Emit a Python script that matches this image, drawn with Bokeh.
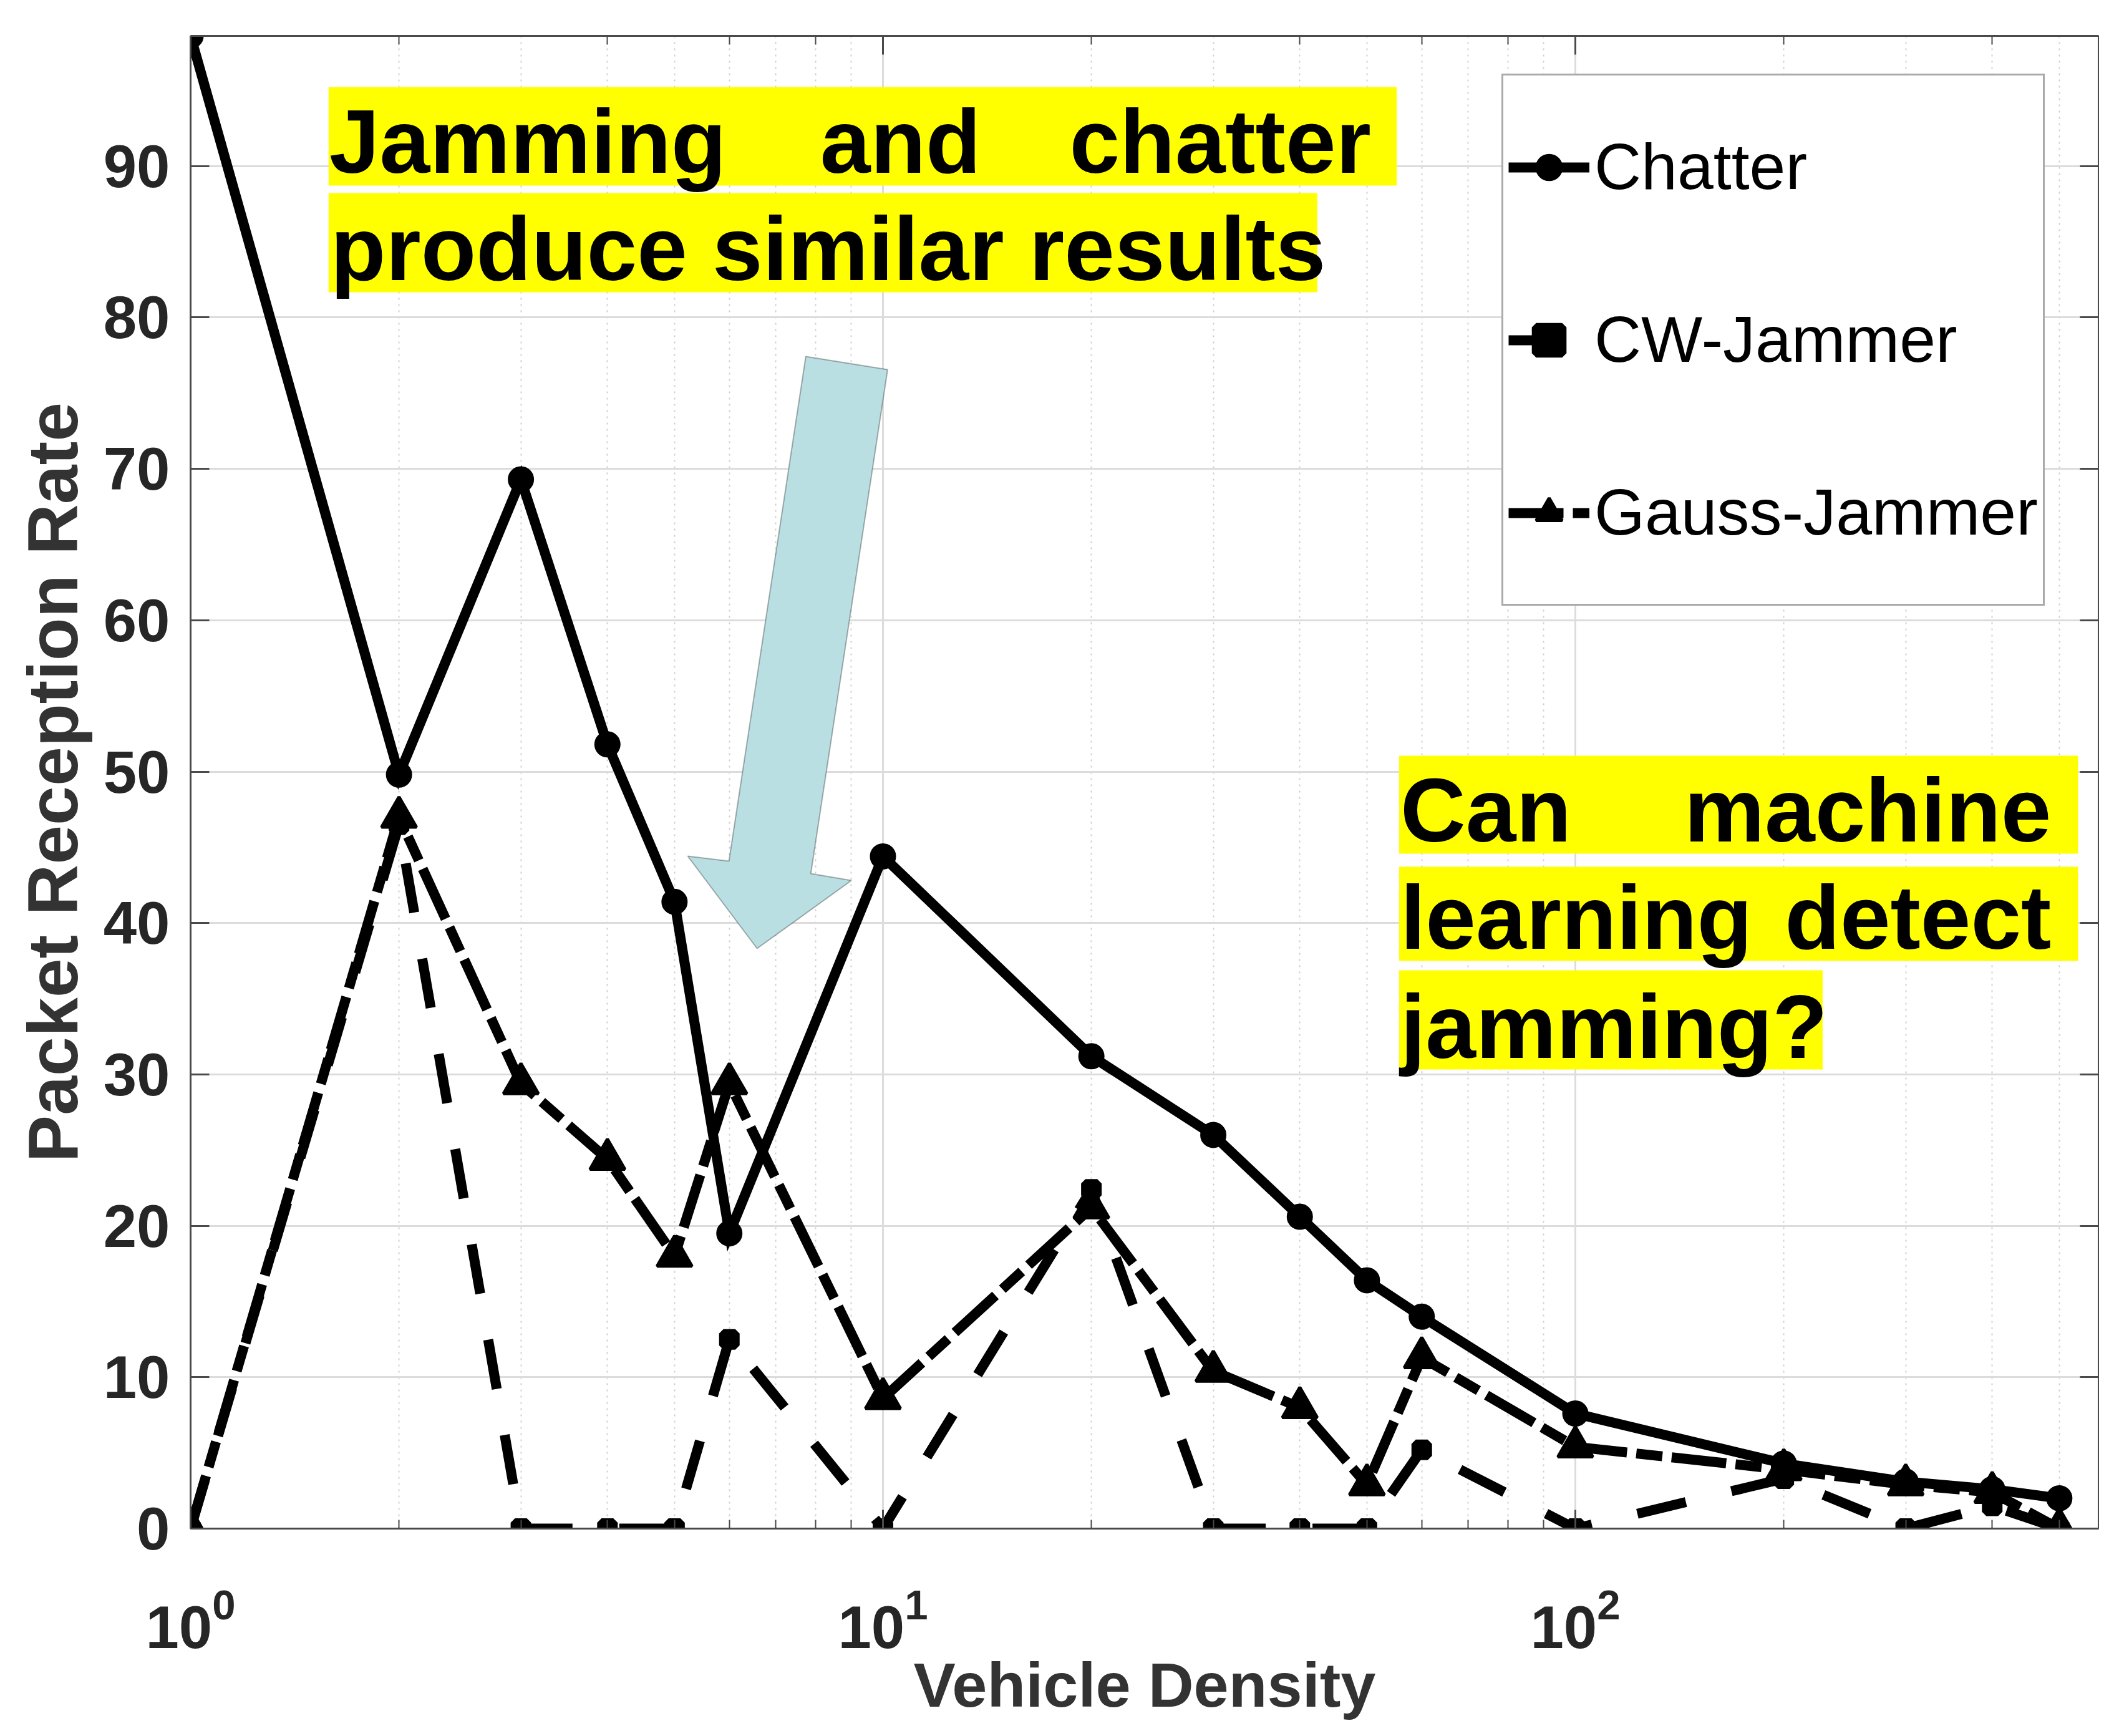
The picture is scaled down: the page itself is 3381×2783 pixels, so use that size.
from math import log10
from bokeh.plotting import figure
from bokeh.models import (LogAxis, LinearAxis, FixedTicker, LogTicker, CustomJSTickFormatter,
                          Legend, LegendItem, BoxAnnotation, Label, PolyAnnotation)
from bokeh.embed import file_html
from bokeh.resources import INLINE

# ---------------- data ----------------
density = [1, 2, 3, 4, 5, 6, 10, 20, 30, 40, 50, 60, 100, 200, 300, 400, 500]
chatter = [98.6, 49.8, 69.3, 51.8, 41.4, 19.5, 44.4, 31.2, 26.0, 20.6, 16.4, 14.0, 7.6, 4.3, 3.1, 2.6, 2.0]
cw_jammer = [0, 46.5, 0, 0, 0, 12.5, 0, 22.4, 0, 0, 0, 5.2, 0, 3.3, 0, 1.5, 0]
gauss_jammer = [0, 47.0, 29.4, 24.4, 18.0, 29.4, 8.6, 21.2, 10.4, 8.0, 2.9, 11.3, 5.4, 3.9, 2.9, 2.4, 0]
y_ticks = [0, 10, 20, 30, 40, 50, 60, 70, 80, 90]
series_names = ["Chatter", "CW-Jammer", "Gauss-Jammer"]
note_top = ["Jamming", "and", "chatter", "produce similar results"]
note_right = ["Can", "machine", "learning", "detect", "jamming?"]

XMAX = 570
YMAX = 98.6
FONT = "Liberation Sans"
TXT = "#262626"
AX = "#4a4a4a"

W, H = 3365, 2767
p = figure(width=W, height=H, x_axis_type="log", x_range=(1, XMAX), y_range=(0, YMAX),
           output_backend="svg", toolbar_location=None,
           min_border_left=305, min_border_top=57, min_border_right=1, min_border_bottom=317,
           background_fill_color="white", border_fill_color="white")
p.outline_line_color = None

# frame geometry in page pixels (used only to place the free annotations)
FL, FT, FR, FB = 8 + 305, 8 + 57, 3368, 8 + 2450
DEC = (FR - FL) / log10(XMAX)


def dx(px):
    return 10 ** ((px - FL) / DEC)


def dy(py):
    return (FB - py) * YMAX / (FB - FT)


# ---------------- grids ----------------
p.xgrid.grid_line_color = "#dcdcdc"
p.xgrid.grid_line_width = 3
p.xgrid.minor_grid_line_color = "#d0d0d0"
p.xgrid.minor_grid_line_width = 2
p.xgrid.minor_grid_line_dash = "3 7"
p.ygrid.grid_line_color = "#dcdcdc"
p.ygrid.grid_line_width = 3
p.ygrid.ticker = FixedTicker(ticks=y_ticks)

# ---------------- axes ----------------
xa = p.xaxis[0]
ya = p.yaxis[0]
ya.ticker = FixedTicker(ticks=y_ticks)
for a in (xa, ya):
    a.axis_line_color = AX
    a.axis_line_width = 3
    a.major_tick_line_color = AX
    a.major_tick_line_width = 3
    a.minor_tick_line_color = AX
    a.minor_tick_line_width = 2
    a.major_tick_in = 30
    a.major_tick_out = 0
    a.minor_tick_in = 14
    a.minor_tick_out = 0
    a.major_label_text_font = FONT
    a.major_label_text_font_style = "bold"
    a.major_label_text_color = TXT
    a.major_label_text_font_size = "96px"
    a.axis_label_text_font = FONT
    a.axis_label_text_font_style = "bold"
    a.axis_label_text_color = "#333333"
    a.axis_label_text_font_size = "113px"
ya.minor_tick_line_color = None
ya.major_label_standoff = 33
ya.axis_label = "Packet Reception Rate"
ya.axis_label_standoff = 15
xa.major_label_standoff = 93
xa.axis_label = "Vehicle Density"
xa.axis_label_text_font_size = "101px"
xa.axis_label_standoff = 0

blank = CustomJSTickFormatter(code="return ''")
top = LogAxis(ticker=LogTicker(), formatter=blank)
right = LinearAxis(ticker=FixedTicker(ticks=y_ticks), formatter=CustomJSTickFormatter(code="return ''"))
for a in (top, right):
    a.axis_line_color = AX
    a.axis_line_width = 3
    a.major_tick_line_color = AX
    a.major_tick_line_width = 3
    a.minor_tick_line_color = AX
    a.minor_tick_line_width = 2
    a.major_tick_in = 30
    a.major_tick_out = 0
    a.minor_tick_in = 14
    a.minor_tick_out = 0
    a.major_label_text_font_size = "1px"
    a.major_label_standoff = 0
right.minor_tick_line_color = None
p.add_layout(top, "above")
p.add_layout(right, "right")

# ---------------- series ----------------
l1 = p.line(density, chatter, line_color="black", line_width=16, line_join="miter")
m1 = p.scatter(density, chatter, marker="circle", size=40, fill_color="black", line_color="black", line_width=2)

l2 = p.line(density, cw_jammer, line_color="black", line_width=16, line_dash="80 75", line_cap="butt")
m2 = p.scatter(density, cw_jammer, marker="square", size=19, fill_color="black", line_color="black", line_width=14)

l3 = p.line(density, gauss_jammer, line_color="black", line_width=16, line_dash="88 15 42 15", line_cap="butt")
m3 = p.scatter(density, gauss_jammer, marker="triangle", size=56, fill_color="black", line_color="black", line_width=5)

legend = Legend(items=[LegendItem(label=series_names[0], renderers=[l1, m1]),
                       LegendItem(label=series_names[1], renderers=[l2, m2]),
                       LegendItem(label=series_names[2], renderers=[l3, m3])],
                location=(2415 - FL, FB - 979))
legend.label_text_font = FONT
legend.label_text_font_size = "104px"
legend.label_text_color = "black"
legend.label_height = 277
legend.label_standoff = 8
legend.glyph_width = 130
legend.glyph_height = 104
legend.spacing = 0
legend.padding = 8
legend.margin = 0
legend.border_line_color = "#555555"
legend.border_line_width = 3
legend.background_fill_color = "white"
legend.background_fill_alpha = 1
p.add_layout(legend, "center")

# ---------------- annotations ----------------
YEL = "#ffff00"
boxes = [(534, 2244, 147, 305), (534, 2117, 317, 476),
         (2248, 3335, 1219, 1376), (2248, 3335, 1397, 1548), (2248, 2926, 1563, 1722)]
for (x0, x1, y0, y1) in boxes:
    p.add_layout(BoxAnnotation(left=dx(x0), right=dx(x1), top=dy(y0), bottom=dy(y1),
                               fill_color=YEL, fill_alpha=1, line_color=None))

words = [(note_top[0], 535, 272, "left"), (note_top[1], 1321, 272, "left"), (note_top[2], 2203, 272, "right"),
         (note_top[3], 537, 444, "left"),
         (note_right[0], 2250, 1344, "left"), (note_right[1], 3292, 1344, "right"),
         (note_right[2], 2250, 1516, "left"), (note_right[3], 3292, 1516, "right"),
         (note_right[4], 2250, 1691, "left")]
SHIFT = 38
for (t, px, py, al) in words:
    p.add_layout(Label(x=dx(px), y=dy(py - SHIFT), text=t, text_font=FONT, text_font_style="bold",
                       text_font_size="145px", text_color="black", text_align=al,
                       text_baseline="alphabetic"))

arrow_px = [(1298, 579), (1429, 600), (1306, 1408), (1371, 1419), (1220, 1528), (1109, 1380), (1175, 1388)]
p.add_layout(PolyAnnotation(xs=[dx(a) for a, b in arrow_px], ys=[dy(b) for a, b in arrow_px],
                            fill_color="#b9dfe3", fill_alpha=1, line_color="black", line_width=2))

open("out.html", "w").write(file_html(p, INLINE))
